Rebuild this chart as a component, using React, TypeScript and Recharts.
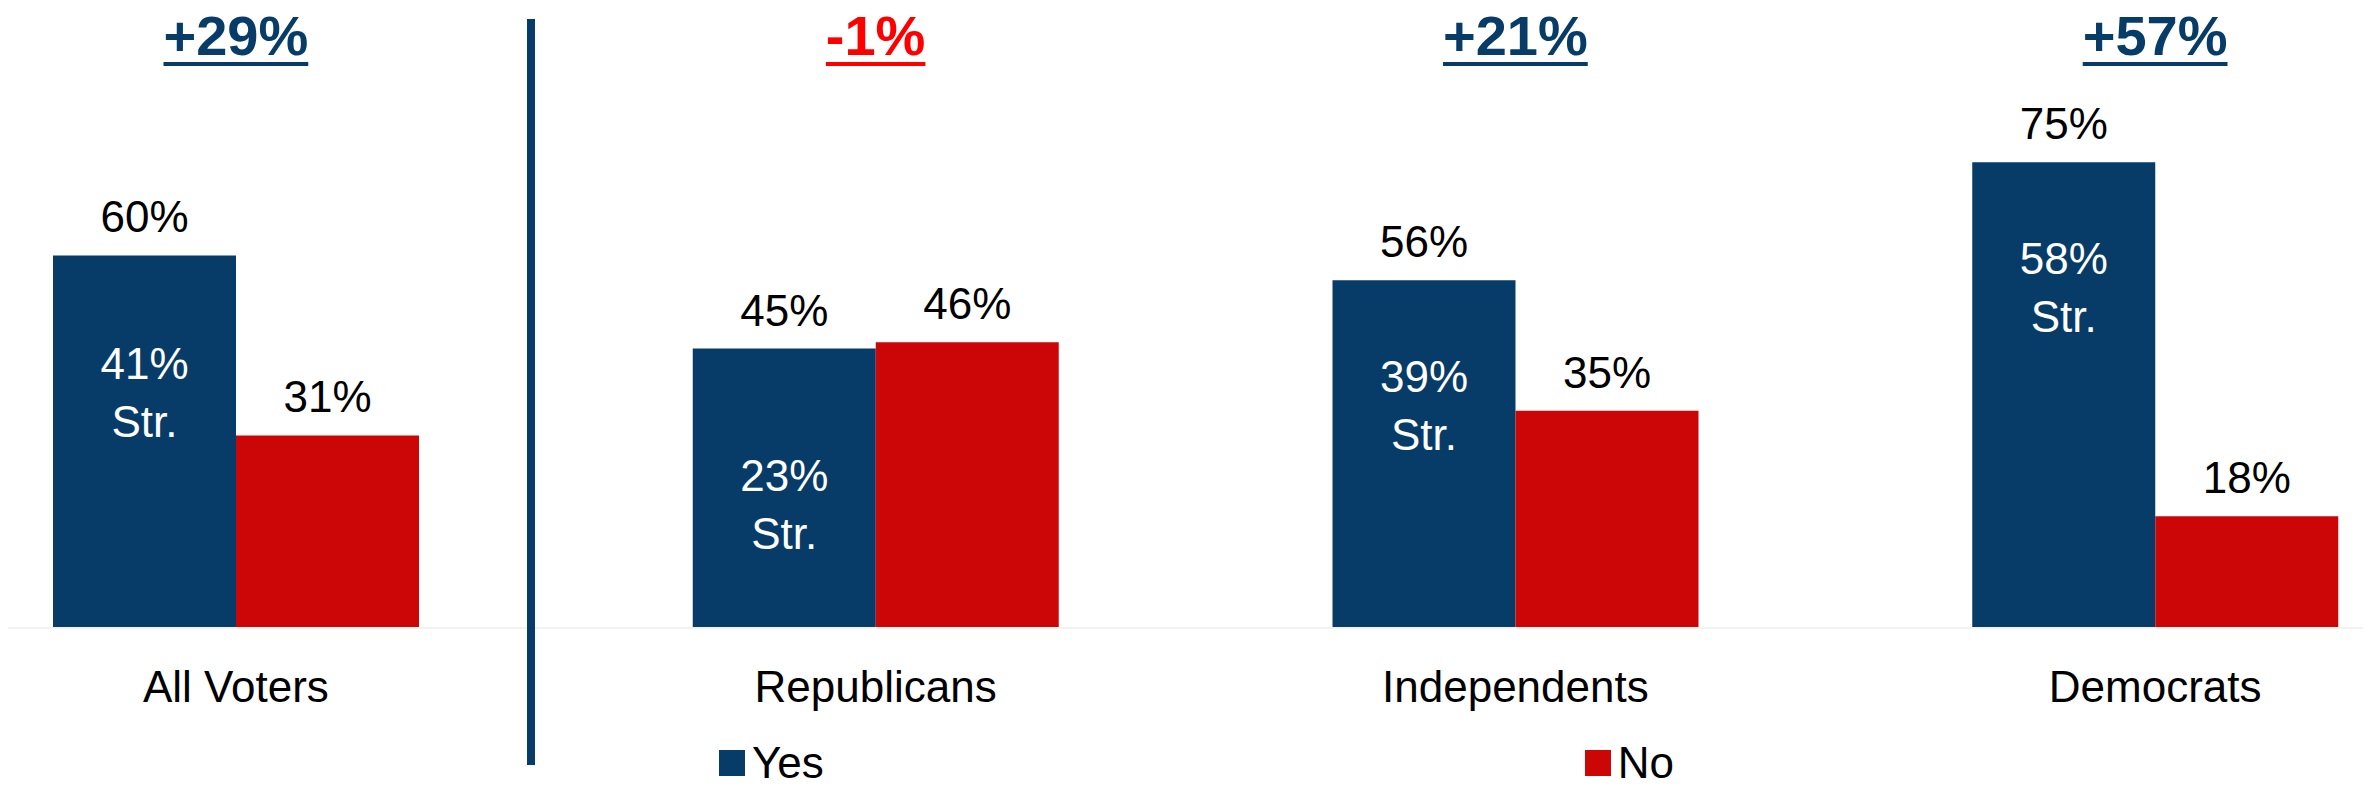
import React from "react";
import { BarChart, Bar, XAxis, YAxis, LabelList, Legend } from "recharts";

// Yes / No by party, with the share that answered "strongly" yes
const groups = ["All Voters", "Republicans", "Independents", "Democrats"];
const yesValues = [60, 45, 56, 75];
const noValues = [31, 46, 35, 18];
const strongYes = [41, 23, 39, 58];
const seriesOrder = ["Yes", "No"];

const NAVY = "#073C68";
const RED = "#CC0606";
const FONT = "'Liberation Sans', Arial, sans-serif";

const data = groups.map((group, i) => ({
  group,
  yes: yesValues[i],
  no: noValues[i],
  strong: strongYes[i],
}));

// rough Arial Bold advance widths, for sizing the header underline
const boldWidths: Record<string, number> = { "+": 0.584, "-": 0.333, "%": 0.889 };
function boldTextWidth(s: string, size: number) {
  let w = 0;
  for (const ch of s) w += boldWidths[ch] ?? 0.556;
  return w * size;
}

function netLabel(i: number) {
  const d = yesValues[i] - noValues[i];
  return d > 0 ? `+${d}%` : `${d}%`;
}

function HeaderTick(props: any) {
  const { x, y, payload } = props;
  const i = groups.indexOf(payload.value);
  if (i < 0) return null;
  const label = netLabel(i);
  const color = yesValues[i] - noValues[i] < 0 ? "#FF0000" : NAVY;
  const size = 56;
  const w = boldTextWidth(label, size);
  return (
    <g>
      <text x={x} y={y + 48} textAnchor="middle" fontSize={size} fontWeight="bold" fill={color} fontFamily={FONT}>
        {label}
      </text>
      <rect x={x - w / 2} y={y + 55} width={w} height={4} fill={color} />
    </g>
  );
}

function CategoryTick(props: any) {
  const { x, y, payload } = props;
  return (
    <text x={x} y={y + 74} textAnchor="middle" fontSize={44} fill="#000" fontFamily={FONT}>
      {payload.value}
    </text>
  );
}

function StrongLabel(props: any) {
  const { x, y, width, height, value, index } = props;
  const i = typeof index === "number" ? index : strongYes.indexOf(value);
  if (i < 0 || !height) return null;
  const pxPerUnit = height / yesValues[i];
  const cy = y + height - strongYes[i] * pxPerUnit;
  const cx = x + width / 2;
  return (
    <g fill="#fff" fontSize={44} fontFamily={FONT} textAnchor="middle">
      <text x={cx} y={cy + 6}>{`${strongYes[i]}%`}</text>
      <text x={cx} y={cy + 64}>Str.</text>
    </g>
  );
}

function LegendContent(props: any) {
  const items = [...(props.payload || [])].sort(
    (a: any, b: any) => seriesOrder.indexOf(a.value) - seriesOrder.indexOf(b.value)
  );
  return (
    <div style={{ display: "flex", alignItems: "center", gap: 761, fontFamily: FONT, fontSize: 44, lineHeight: "50px" }}>
      {items.map((it: any) => (
        <div key={it.value} style={{ display: "flex", alignItems: "center", gap: 7 }}>
          <span style={{ display: "inline-block", width: 26, height: 26, background: it.color }} />
          <span style={{ color: "#000" }}>{it.value}</span>
        </div>
      ))}
    </div>
  );
}

export default function App() {
  return (
    <div style={{ position: "relative", width: 2371, height: 802, overflow: "hidden", margin: -8, background: "#fff", fontFamily: FONT }}>
      <BarChart
        width={2559}
        height={802}
        data={data}
        margin={{ top: 0, right: 0, bottom: 74, left: 0 }}
        barGap={0}
        style={{ position: "absolute", left: -84, top: 0 }}
      >
        <XAxis
          xAxisId="top"
          orientation="top"
          dataKey="group"
          height={7}
          axisLine={false}
          tickLine={false}
          tickSize={0}
          tickMargin={0}
          tick={<HeaderTick />}
          interval={0}
        />
        <XAxis
          dataKey="group"
          height={100}
          axisLine={{ stroke: "#F2F2F2", strokeWidth: 2 }}
          tickLine={false}
          tickSize={0}
          tickMargin={0}
          tick={<CategoryTick />}
          interval={0}
        />
        <YAxis hide domain={[0, 100]} />
        <Legend
          verticalAlign="middle"
          align="center"
          content={<LegendContent />}
          wrapperStyle={{ top: 738, left: 803, width: "auto" }}
        />
        <Bar dataKey="yes" name="Yes" fill={NAVY} barSize={183} isAnimationActive={false}>
          <LabelList dataKey="yes" position="top" offset={23} fontSize={44} fill="#000" formatter={(v: any) => `${v}%`} />
          <LabelList dataKey="strong" content={<StrongLabel />} />
        </Bar>
        <Bar dataKey="no" name="No" fill={RED} barSize={183} isAnimationActive={false}>
          <LabelList dataKey="no" position="top" offset={23} fontSize={44} fill="#000" formatter={(v: any) => `${v}%`} />
        </Bar>
      </BarChart>
      {/* slide decorations: divider after "All Voters" and footer rule */}
      <div style={{ position: "absolute", left: 527, top: 19, width: 8, height: 746, background: NAVY }} />
      <div style={{ position: "absolute", left: 11, top: 800, width: 2360, height: 2, background: "#5B7A8F" }} />
    </div>
  );
}
